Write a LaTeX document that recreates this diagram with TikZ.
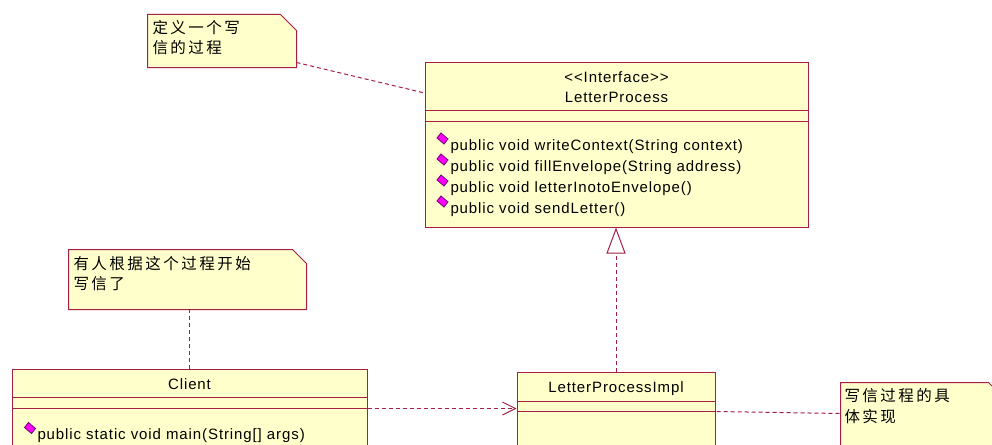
\documentclass[tikz,border=0pt]{standalone}
\usepackage{fontspec}
\usetikzlibrary{arrows.meta,calc,shapes.geometric}
\newfontfamily\umlfam{Liberation Sans}[LetterSpace=6]
\newfontfamily\cjkfam{Noto Sans CJK SC}[LetterSpace=16]
\newcommand\umlf{\fontsize{15pt}{18pt}\selectfont\umlfam}
\newcommand\cjkf{\fontsize{15.5pt}{18pt}\selectfont\cjkfam}
\definecolor{border}{RGB}{165,30,70}
\definecolor{bg}{RGB}{255,255,204}
\definecolor{mag}{RGB}{255,0,255}
\definecolor{magedge}{RGB}{110,0,110}
\begin{document}
\begin{tikzpicture}[x=1pt,y=-1pt,line width=1pt,
  umlbox/.style={draw=border,fill=bg,rectangle,inner sep=0pt},
  noteframe/.style={rectangle,inner sep=0pt},
  notefill/.style={draw=border,fill=bg,line join=miter},
  lat/.style={font=\umlf,inner sep=0pt,text height=11pt,text depth=3pt},
  cjkt/.style={font=\cjkf,inner sep=0pt,anchor=west},
  dep/.style={draw=border,dash pattern=on 4pt off 3pt},
  methicon/.pic={\draw[draw=magedge,fill=mag,line width=0.8pt,line join=miter] (-5.5,-0.5) -- (-1.5,-5.5) -- (5.5,0.5) -- (1.5,5.5) -- cycle;}
]
\useasboundingbox (0,0) rectangle (992,444);
\clip (0,0) rectangle (992,444);
\fill[white] (0,0) rectangle (992,444);

% ---- notes
\node[noteframe,minimum width=148pt,minimum height=52pt] (note1) at (222,41) {};
\draw[notefill] (note1.north west) -- ([xshift=-16pt]note1.north east) -- ([yshift=-16pt]note1.north east) -- (note1.south east) -- (note1.south west) -- cycle;
\node[cjkt] (n1l1) at (152,28) {定义一个写};
\node[cjkt] (n1l2) at (152,48) {信的过程};

\node[noteframe,minimum width=237pt,minimum height=59pt] (note2) at (187.5,279.5) {};
\draw[notefill] (note2.north west) -- ([xshift=-14pt]note2.north east) -- ([yshift=-14pt]note2.north east) -- (note2.south east) -- (note2.south west) -- cycle;
\node[cjkt] (n2l1) at (73,264) {有人根据这个过程开始};
\node[cjkt] (n2l2) at (73,284) {写信了};

\node[noteframe,minimum width=163pt,minimum height=90pt] (note3) at (922.5,428) {};
\draw[notefill] (note3.north west) -- ([xshift=-16pt]note3.north east) -- ([yshift=-16pt]note3.north east) -- (note3.south east) -- (note3.south west) -- cycle;
\node[cjkt] (n3l1) at (844,396) {写信过程的具};
\node[cjkt] (n3l2) at (844,417) {体实现};

% ---- interface
\node[umlbox,minimum width=383pt,minimum height=165pt] (iface) at (616.5,144.5) {};
\draw[border] ([yshift=-49pt]iface.north west) -- ([yshift=-49pt]iface.north east);
\draw[border] ([yshift=-60pt]iface.north west) -- ([yshift=-60pt]iface.north east);
\node[lat] (ster) at (616.5,78) {<<Interface>>};
\node[lat] (iname) at (616.5,98) {LetterProcess};
\node[lat,anchor=west] (m1) at (450,146) {public void writeContext(String context)};
\node[lat,anchor=west] (m2) at (450,167) {public void fillEnvelope(String address)};
\node[lat,anchor=west] (m3) at (450,188) {public void letterInotoEnvelope()};
\node[lat,anchor=west] (m4) at (450,209) {public void sendLetter()};
\pic (d1) at (442.5,138.5) {methicon};
\pic (d2) at (442.5,159.5) {methicon};
\pic (d3) at (442.5,180.5) {methicon};
\pic (d4) at (442.5,201.5) {methicon};

% ---- impl
\node[umlbox,minimum width=198pt,minimum height=100pt] (impl) at (616,422) {};
\draw[border] ([yshift=-30pt]impl.north west) -- ([yshift=-30pt]impl.north east);
\draw[border] ([yshift=-40pt]impl.north west) -- ([yshift=-40pt]impl.north east);
\node[lat] (implname) at (616,388) {LetterProcessImpl};

% ---- client
\node[umlbox,minimum width=355pt,minimum height=100pt] (client) at (189.5,419) {};
\draw[border] ([yshift=-29pt]client.north west) -- ([yshift=-29pt]client.north east);
\draw[border] ([yshift=-40pt]client.north west) -- ([yshift=-40pt]client.north east);
\node[lat] (cname) at (189.5,385) {Client};
\node[lat,anchor=west] (cm1) at (37,435) {public static void main(String[] args)};
\pic (cd1) at (30,428) {methicon};

% ---- connectors
\draw[dep] ([yshift=5pt]note1.south east) -- ([yshift=51.5pt]iface.west);
\draw[dep] (client.north) -- (client.north |- note2.south);
\draw[dep,-{Triangle[length=26pt,width=19pt,fill=white]}] (impl.north) -- (impl.north |- iface.south);
\coordinate (cdep) at ($(client.north east)+(0,40)$);
\draw[dep,-{Straight Barb[length=13pt,width=13pt]}] (cdep) -- (impl.west |- cdep);
\draw[dep] ($(impl.north east)+(1,40)$) -- ($(note3.north west)+(0,31)$);
\end{tikzpicture}
\end{document}
